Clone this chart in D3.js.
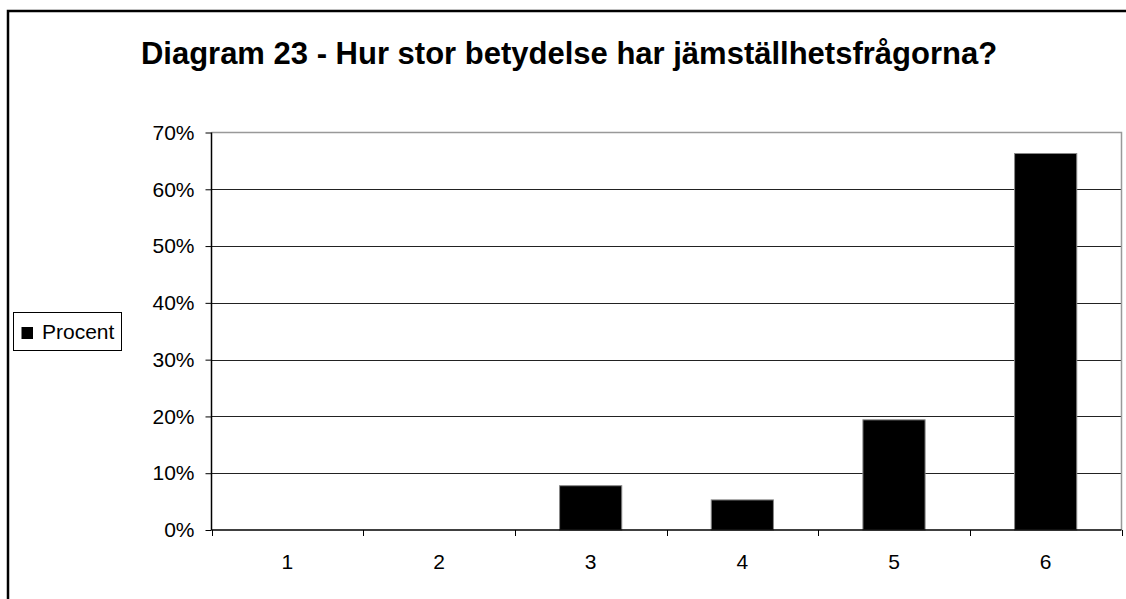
<!DOCTYPE html>
<html>
<head>
<meta charset="utf-8">
<script src="https://cdn.jsdelivr.net/npm/d3@7"></script>
<style>
  body { margin: 0; background: #fff; }
  svg { display: block; font-family: Arial, "Liberation Sans", sans-serif; }
</style>
</head>
<body>
<div id="chart"></div>
<script>
const categories = ['1', '2', '3', '4', '5', '6'];
const values = [0, 0, 7.8, 5.3, 19.4, 66.3];
const yTicks = [0, 10, 20, 30, 40, 50, 60, 70];
const title = 'Diagram 23 - Hur stor betydelse har jämställhetsfrågorna?';
const seriesName = 'Procent';

const width = 1126, height = 599;
const plot = {left: 211.5, right: 1121.5, top: 132.5, bottom: 530};

const svg = d3.select('#chart')
	.append('svg')
	.attr('width', width)
	.attr('height', height);

// outer frame (runs off the right and bottom edges)
svg.append('rect')
	.attr('x', 8)
	.attr('y', 11)
	.attr('width', 1140)
	.attr('height', 620)
	.attr('fill', '#fff')
	.attr('stroke', '#000')
	.attr('stroke-width', 2.5);

svg.append('text')
	.attr('x', 569)
	.attr('y', 64)
	.attr('text-anchor', 'middle')
	.attr('font-size', 31)
	.attr('font-weight', 'bold')
	.text(title);

var x = d3.scaleBand()
	.domain(categories)
	.range([plot.left, plot.right])
	.paddingInner(0.59)
	.paddingOuter(0.295);

var xEdges = d3.scaleLinear()
	.domain([0, categories.length])
	.range([plot.left, plot.right]);

var y = d3.scaleLinear()
	.domain([0, 70])
	.range([plot.bottom, plot.top]);

// gridlines
svg.append('g')
	.selectAll('line')
	.data(yTicks.filter(d => d > 0 && d < 70))
	.enter()
	.append('line')
	.attr('x1', plot.left)
	.attr('x2', plot.right)
	.attr('y1', d => Math.round(y(d)) + 0.5)
	.attr('y2', d => Math.round(y(d)) + 0.5)
	.attr('stroke', '#222');

// plot area border, top and right in grey
svg.append('path')
	.attr('d', `M${plot.left},${y(70)}H${plot.right}V${plot.bottom}`)
	.attr('fill', 'none')
	.attr('stroke', '#999')
	.attr('stroke-width', 1.5);

// bars
svg.append('g')
	.selectAll('rect')
	.data(values)
	.enter()
	.append('rect')
	.attr('x', (d, i) => x(categories[i]))
	.attr('width', x.bandwidth())
	.attr('y', d => y(d))
	.attr('height', d => y(0) - y(d))
	.attr('fill', d => d > 0 ? '#000' : 'none')
	.attr('stroke', d => d > 0 ? '#888' : 'none')
	.attr('stroke-width', 1);

// y axis
var yAxis = svg.append('g')
	.attr('transform', `translate(${plot.left},0)`)
	.call(d3.axisLeft(y).tickValues(yTicks).tickSize(6).tickPadding(11).tickFormat(d => d + '%'));
yAxis.select('.domain').attr('stroke', '#000').attr('stroke-width', 1.5).attr('d', `M0,${y(70)}V${plot.bottom}`);
yAxis.selectAll('.tick line').attr('stroke', '#000');
yAxis.selectAll('.tick text')
	.attr('font-size', 21)
	.attr('font-family', 'Arial, "Liberation Sans", sans-serif')
	.attr('fill', '#000');

// x axis
var xAxis = svg.append('g')
	.attr('transform', `translate(0,${plot.bottom})`)
	.call(d3.axisBottom(x).tickSize(0).tickPadding(24));
xAxis.select('.domain').remove();
xAxis.selectAll('.tick text')
	.attr('font-size', 21)
	.attr('font-family', 'Arial, "Liberation Sans", sans-serif')
	.attr('fill', '#000');

svg.append('line')
	.attr('x1', plot.left)
	.attr('x2', plot.right)
	.attr('y1', plot.bottom)
	.attr('y2', plot.bottom)
	.attr('stroke', '#000')
	.attr('stroke-width', 1.5);

svg.append('g')
	.selectAll('line')
	.data(d3.range(categories.length + 1))
	.enter()
	.append('line')
	.attr('x1', d => Math.round(xEdges(d)) + 0.5)
	.attr('x2', d => Math.round(xEdges(d)) + 0.5)
	.attr('y1', plot.bottom)
	.attr('y2', plot.bottom + 6)
	.attr('stroke', '#000');

// legend
var legend = svg.append('g');
legend.append('rect')
	.attr('x', 13.5)
	.attr('y', 312.5)
	.attr('width', 108)
	.attr('height', 38)
	.attr('fill', '#fff')
	.attr('stroke', '#000');
legend.append('rect')
	.attr('x', 21.5)
	.attr('y', 327)
	.attr('width', 11.5)
	.attr('height', 12)
	.attr('fill', '#000');
legend.append('text')
	.attr('x', 42)
	.attr('y', 339)
	.attr('font-size', 21)
	.text(seriesName);
</script>
</body>
</html>
